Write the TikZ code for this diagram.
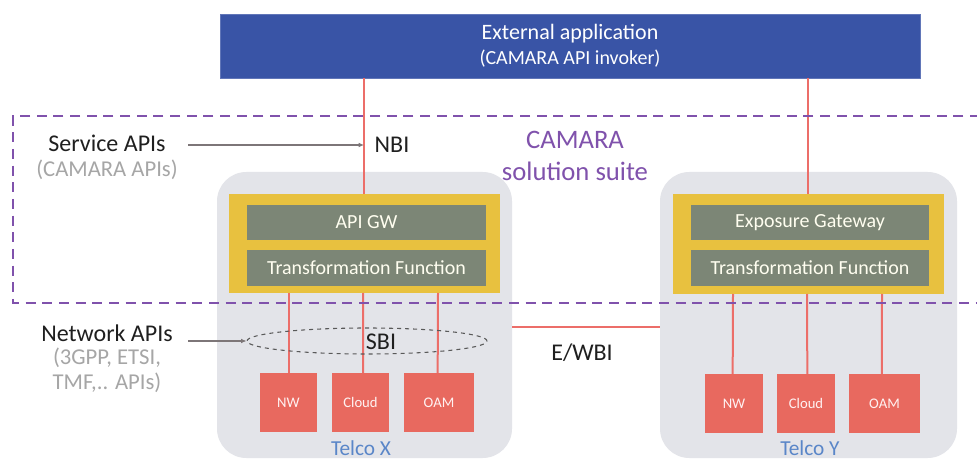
\documentclass[tikz,border=0pt]{standalone}
\usepackage{fontspec}
\setmainfont{Carlito}
\usetikzlibrary{shapes.geometric,arrows.meta}
\definecolor{extblue}{RGB}{57,84,166}
\definecolor{telcogray}{RGB}{227,228,233}
\definecolor{yel}{RGB}{232,193,63}
\definecolor{gwgreen}{RGB}{124,134,118}
\definecolor{redbox}{RGB}{232,105,95}
\definecolor{redline}{RGB}{236,110,105}
\definecolor{purp}{RGB}{128,82,172}
\definecolor{lgray}{RGB}{166,166,166}
\definecolor{agray}{RGB}{125,118,120}
\definecolor{telcotxt}{RGB}{90,134,200}
\tikzset{
  boxbase/.style={rectangle, inner sep=0pt, outer sep=0pt},
  extbox/.style={boxbase, fill=extblue, draw=extblue!80!white, line width=0.5pt, text=white, align=center, font=\fontsize{16.5}{17.5}\selectfont},
  telcobox/.style={boxbase, fill=telcogray, rounded corners=22pt},
  yelbox/.style={boxbase, fill=yel},
  gwbox/.style={boxbase, fill=gwgreen, text=white!94!yellow, font=\fontsize{15}{17}\selectfont},
  redsq/.style={boxbase, fill=redbox, text=white!95!red, font=\fontsize{11}{12}\selectfont, minimum height=44.25pt},
  rline/.style={draw=redline, line width=1.5pt},
  pdash/.style={draw=purp, line width=1.6pt, dash pattern=on 7.5pt off 5pt},
  garrow/.style={draw=agray, line width=0.9pt, -{Latex[length=4pt,width=3.5pt]}},
  lbl/.style={font=\fontsize{18}{20}\selectfont, text=black!88, inner sep=0pt},
  glbl/.style={font=\fontsize{17}{19}\selectfont, text=lgray, inner sep=0pt},
  plbl/.style={font=\fontsize{20}{22}\selectfont, text=purp, inner sep=0pt},
  tlbl/.style={font=\fontsize{16}{18}\selectfont, text=telcotxt, inner sep=0pt}
}
\begin{document}
\begin{tikzpicture}[x=0.75pt,y=-0.75pt]
\useasboundingbox (0,0) rectangle (977,459);
\fill[white] (0,0) rectangle (977,459);
% telco containers
\node[telcobox, minimum width=221.25pt, minimum height=214.5pt] (tx) at (364.5,315) {};
\node[telcobox, minimum width=222.75pt, minimum height=214.5pt] (ty) at (808.5,315) {};
% external app
\node[extbox, minimum width=525pt, minimum height=48pt] (ext) at (570,46) {External application\\[1.5pt]\fontsize{15}{17}\selectfont(CAMARA API invoker)};
% yellow boxes
\node[yelbox, minimum width=203.25pt, minimum height=74.25pt] (yx) at (364.5,243.5) {};
\node[yelbox, minimum width=203.25pt, minimum height=75pt] (yy) at (808.5,244) {};
% inner boxes
\node[gwbox, minimum width=179.25pt, minimum height=26.25pt] (gwx) at (366.5,222.5) {API GW};
\node[gwbox, minimum width=179.25pt, minimum height=27pt] (tfx) at (366.5,268) {Transformation Function};
\node[gwbox, minimum width=178.5pt, minimum height=26.25pt] (gwy) at (810,222.5) {Exposure Gateway};
\node[gwbox, minimum width=178.5pt, minimum height=27pt] (tfy) at (810,268) {Transformation Function};
% red boxes
\node[redsq, minimum width=42.75pt] (nwx) at (288.5,402.5) {NW};
\node[redsq, minimum width=42.75pt] (clx) at (360.5,402.5) {Cloud};
\node[redsq, minimum width=52.5pt] (oax) at (439,402.5) {OAM};
\node[redsq, minimum width=43.5pt] (nwy) at (734,403.5) {NW};
\node[redsq, minimum width=43.5pt] (cly) at (806,403.5) {Cloud};
\node[redsq, minimum width=53.25pt] (oay) at (884.5,403.5) {OAM};
% connectors
\coordinate (nbix) at (364,0);
\coordinate (nbiy) at (808,0);
\draw[rline] (ext.south -| nbix) -- (yx.north -| nbix);
\draw[rline] (ext.south -| nbiy) -- (yy.north -| nbiy);
\draw[rline] (nwx.north) -- (nwx.north |- yx.south);
\draw[rline] (clx.north) ++(2pt,0) -- (yx.south -| 363,0);
\draw[rline] (oax.north) ++(-1pt,0) -- (yx.south -| 438,0);
\draw[rline] (nwy.north) ++(-1pt,0) -- (yy.south -| 733,0);
\draw[rline] (cly.north) ++(1pt,0) -- (yy.south -| 807,0);
\draw[rline] (oay.north) ++(-2pt,0) -- (yy.south -| 882,0);
\coordinate (ewb) at (0,327);
\draw[rline] (tx.east |- ewb) -- (ty.west |- ewb);
% purple dashed suite boundary
\draw[pdash] (980,116) -- (13,116) -- (13,303) -- (980,303);
% SBI ellipse
\node[ellipse, draw=black!65, dashed, line width=0.8pt, minimum width=180pt, minimum height=19.5pt, inner sep=0pt] (sbi) at (367,341) {};
\node[lbl] (sbit) at (381,342) {SBI};
% labels
\node[lbl] (svc) at (107,143) {Service APIs};
\node[glbl] (svc2) at (107,170) {(CAMARA APIs)};
\node[lbl] (net) at (107,333) {Network APIs};
\node[glbl] (net2) at (107,358) {(3GPP, ETSI,};
\node[glbl] (net3) at (107,383) {TMF,.. APIs)};
\node[lbl] (nbi) at (392,145) {NBI};
\node[plbl] (cam1) at (575,140) {CAMARA};
\node[plbl] (cam2) at (575,171) {solution suite};
\node[lbl] (ewbi) at (582,353) {E/WBI};
\node[tlbl] (tlx) at (361,448) {Telco X};
\node[tlbl] (tly) at (810,448) {Telco Y};
% arrows
\coordinate (sa) at (188,145);
\coordinate (na) at (188,341);
\draw[garrow] (sa) -- (sa -| nbix);
\draw[garrow] (na) -- (sbi.west);
\end{tikzpicture}
\end{document}
